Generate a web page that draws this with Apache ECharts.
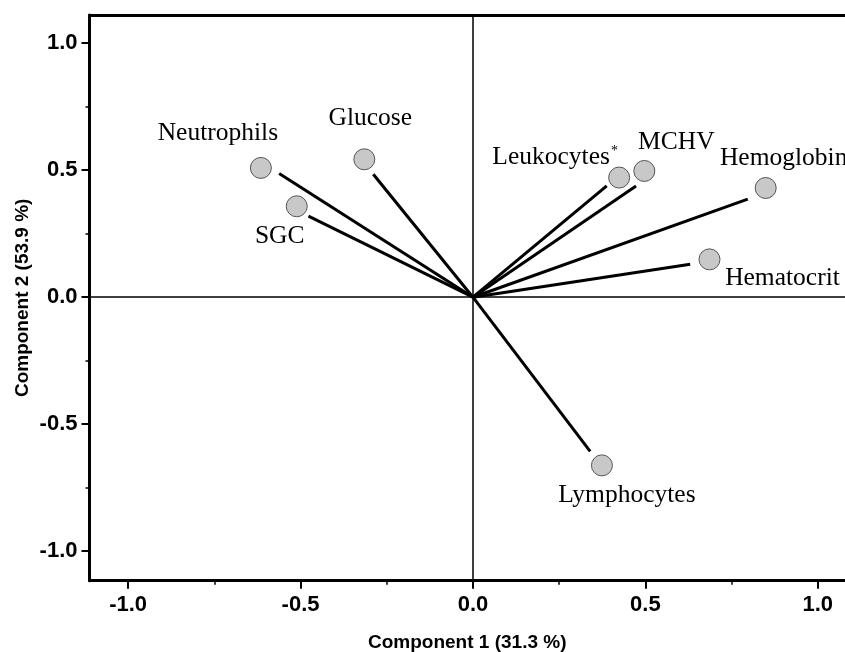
<!DOCTYPE html>
<html>
<head>
<meta charset="utf-8">
<script src="https://cdn.jsdelivr.net/npm/echarts@6/dist/echarts.min.js"></script>
<style>
html,body{margin:0;padding:0;background:#fff;}
#chart{width:845px;height:652px;}
</style>
</head>
<body>
<div id="chart"></div>
<script>
// ---- data ----
const variables = ['Neutrophils', 'Glucose', 'SGC', 'Leukocytes', 'MCHV', 'Hemoglobin', 'Hematocrit', 'Lymphocytes'];
const pointX = [-0.615, -0.315, -0.511, 0.424, 0.497, 0.849, 0.686, 0.374];
const pointY = [0.509, 0.543, 0.358, 0.471, 0.497, 0.430, 0.149, -0.662];
const vectorEndX = [-0.562, -0.289, -0.477, 0.388, 0.473, 0.797, 0.630, 0.340];
const vectorEndY = [0.487, 0.484, 0.319, 0.438, 0.438, 0.386, 0.130, -0.607];
const majorTicks = [-1.0, -0.5, 0.0, 0.5, 1.0];
const minorTicks = [-0.75, -0.25, 0.25, 0.75];
const xTitle = 'Component 1 (31.3 %)';
const yTitle = 'Component 2 (53.9 %)';

// ---- layout/style (not data) ----
const labelOffsets = [[-43, -35], [6, -41], [-17, 30], [-64, -20], [32, -29], [18, -30], [73, 19], [25, 30]];
const xMin = -1.112, xMax = 1.079, yMin = -1.116, yMax = 1.111;
const serif = 'Liberation Serif, "Times New Roman", serif';
const sans = 'Liberation Sans, Arial, sans-serif';
const labelSize = 25.5;

const chart = echarts.init(document.getElementById('chart'), null, {renderer: 'canvas'});

const scatterData = variables.map((name, i) => {
  const isLeuk = name === 'Leukocytes';
  return {
    name: name,
    value: [pointX[i], pointY[i]],
    label: {
      show: true,
      position: 'inside',
      offset: labelOffsets[i],
      formatter: isLeuk ? '{a|' + name + '}{s|*}' : name,
      fontFamily: serif,
      fontSize: labelSize,
      color: '#000',
      rich: {
        a: {fontFamily: serif, fontSize: labelSize, color: '#000'},
        s: {fontFamily: serif, fontSize: 14, color: '#000', verticalAlign: 'top', padding: [0, 0, 0, 1]}
      }
    }
  };
});

const vectorData = variables.map((name, i) => ({
  coords: [[0, 0], [vectorEndX[i], vectorEndY[i]]]
}));

const axisLineStyle = {color: '#000', width: 3};

const option = {
  backgroundColor: '#fff',
  animation: false,
  grid: {left: 89.5, top: 15, right: 0, bottom: 71.3, containLabel: false, outerBoundsMode: 'none'},
  xAxis: [
    {
      type: 'value', position: 'bottom', min: xMin, max: xMax,
      axisLine: {show: true, onZero: false, lineStyle: axisLineStyle},
      axisTick: {show: true, inside: false, length: 8, lineStyle: {color: '#000', width: 2}, customValues: majorTicks},
      axisLabel: {show: true, margin: 13, fontFamily: sans, fontWeight: 'bold', fontSize: 22, color: '#000',
        customValues: majorTicks, formatter: v => v.toFixed(1)},
      splitLine: {show: false},
      name: xTitle, nameLocation: 'middle', nameGap: 53, nameMoveOverlap: false,
      nameTextStyle: {fontFamily: sans, fontWeight: 'bold', fontSize: 19, color: '#000'}
    },
    {
      type: 'value', position: 'bottom', min: xMin, max: xMax,
      axisLine: {show: false, onZero: false},
      axisTick: {show: true, inside: false, length: 4, lineStyle: {color: '#000', width: 1.5}, customValues: minorTicks},
      axisLabel: {show: false},
      splitLine: {show: false}
    },
    {
      type: 'value', position: 'top', min: xMin, max: xMax,
      axisLine: {show: true, onZero: false, lineStyle: axisLineStyle},
      axisTick: {show: false}, axisLabel: {show: false}, splitLine: {show: false}
    }
  ],
  yAxis: [
    {
      type: 'value', position: 'left', min: yMin, max: yMax,
      axisLine: {show: true, onZero: false, lineStyle: axisLineStyle},
      axisTick: {show: true, inside: false, length: 8, lineStyle: {color: '#000', width: 2}, customValues: majorTicks},
      axisLabel: {show: true, margin: 12, fontFamily: sans, fontWeight: 'bold', fontSize: 22, color: '#000',
        customValues: majorTicks, formatter: v => v.toFixed(1)},
      splitLine: {show: false},
      name: yTitle, nameLocation: 'middle', nameGap: 57, nameRotate: 90, nameMoveOverlap: false,
      nameTextStyle: {fontFamily: sans, fontWeight: 'bold', fontSize: 19, color: '#000'}
    },
    {
      type: 'value', position: 'left', min: yMin, max: yMax,
      axisLine: {show: false, onZero: false},
      axisTick: {show: true, inside: false, length: 4, lineStyle: {color: '#000', width: 1.5}, customValues: minorTicks},
      axisLabel: {show: false},
      splitLine: {show: false}
    }
  ],
  series: [
    {
      type: 'lines',
      coordinateSystem: 'cartesian2d',
      xAxisIndex: 0, yAxisIndex: 0,
      z: 3,
      silent: true,
      lineStyle: {color: '#000', width: 3, opacity: 1},
      data: vectorData,
      markLine: {
        silent: true,
        symbol: ['none', 'none'],
        label: {show: false},
        lineStyle: {color: '#000', width: 1.5, type: 'solid'},
        data: [{xAxis: 0}, {yAxis: 0}],
        z: 2
      }
    },
    {
      type: 'scatter',
      xAxisIndex: 0, yAxisIndex: 0,
      z: 5,
      symbol: 'circle',
      symbolSize: 21,
      itemStyle: {color: '#c8c8c8', borderColor: '#555', borderWidth: 1, opacity: 1},
      data: scatterData
    }
  ]
};

chart.setOption(option);
</script>
</body>
</html>
